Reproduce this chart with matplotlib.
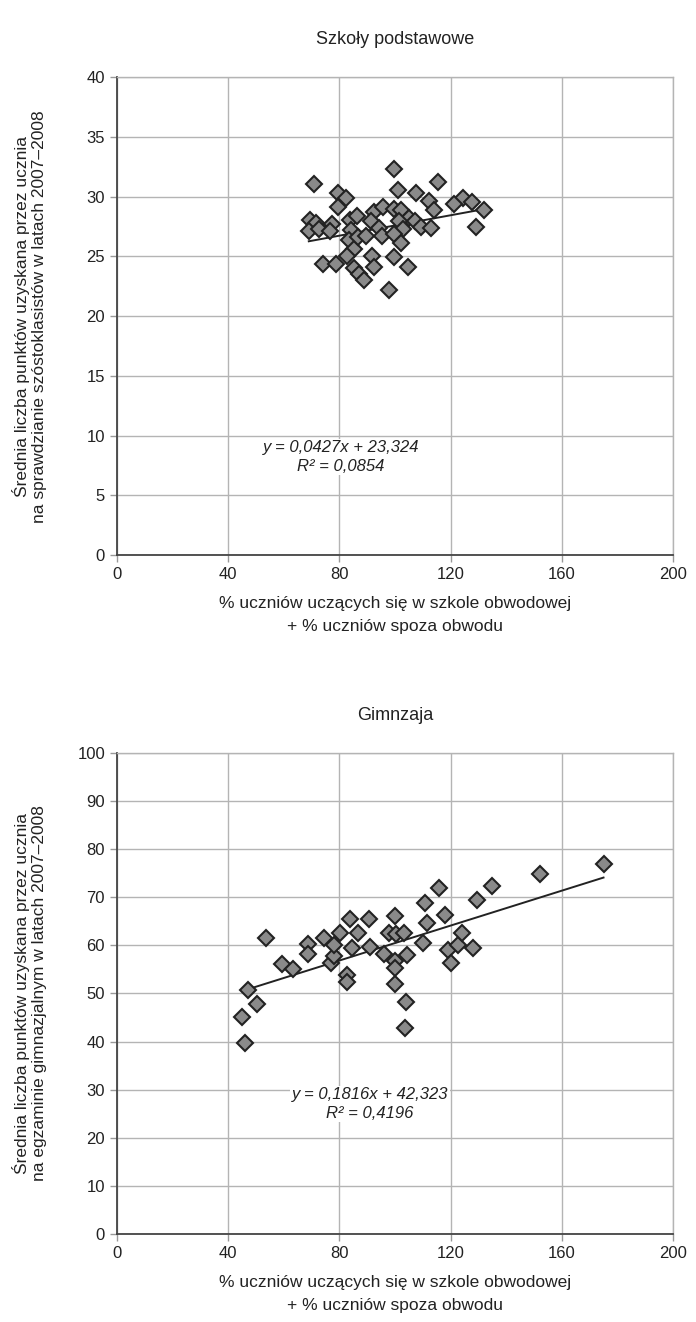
# ============== Imports ===================
import numpy as np
import matplotlib
matplotlib.use("Agg")
import matplotlib.pyplot as plt

plt.rcParams["font.family"] = ["Liberation Sans", "DejaVu Sans"]

# ============== Données ===========================================
# Szkoły podstawowe
sp_x = [71.0, 79.6, 82.4, 79.4, 69.4, 71.6, 77.4, 69.0, 72.8, 76.6,
        83.8, 86.2, 84.2, 83.4, 85.2, 82.6, 86.8, 89.6, 92.6, 95.6,
        91.4, 94.4, 95.2, 74.0, 78.8, 85.2, 87.0, 89.0, 91.6, 92.6,
        98.0, 99.8, 115.4, 101.0, 107.4, 112.2, 114.2, 124.4, 121.4, 127.6,
        131.9, 129.2, 99.8, 102.2, 104.9, 107.3, 109.4, 113.0, 101.6, 102.8,
        99.8, 102.2, 99.8, 104.6]
sp_y = [31.05, 30.33, 29.86, 29.1, 28.05, 27.8, 27.7, 27.1, 27.3, 27.1,
        28.05, 28.4, 27.2, 26.4, 25.6, 25.0, 26.6, 26.7, 28.75, 29.1,
        28.0, 27.4, 26.7, 24.4, 24.4, 24.0, 23.5, 23.0, 25.0, 24.1,
        22.2, 32.35, 31.2, 30.6, 30.3, 29.6, 28.85, 29.9, 29.4, 29.55,
        28.85, 27.5, 29.0, 28.85, 28.2, 28.0, 27.5, 27.35, 27.95, 27.3,
        26.85, 26.15, 24.97, 24.1]
sp_a, sp_b = 0.0427, 23.324
sp_eq = "y = 0,0427x + 23,324\nR² = 0,0854"

# Gimnazja
gim_x = [45.0, 46.0, 47.2, 50.2, 53.6, 59.2, 63.2, 68.6, 68.8, 74.6,
         76.9, 78.2, 78.2, 80.2, 82.6, 82.6, 83.8, 84.7, 86.8, 90.8,
         91.0, 96.1, 97.7, 100.0, 100.3, 100.0, 100.0, 100.0, 103.1, 104.5,
         104.0, 103.5, 109.9, 111.4, 110.8, 116.0, 118.0, 119.0, 120.2, 122.6,
         124.0, 127.9, 129.6, 134.9, 152.1, 175.0]
gim_y = [45.1, 39.8, 50.8, 47.9, 61.6, 56.1, 55.0, 60.35, 58.3, 61.6,
         56.4, 57.8, 60.1, 62.5, 53.8, 52.4, 65.4, 59.4, 62.6, 65.4,
         59.65, 58.3, 62.5, 66.1, 62.3, 56.7, 55.4, 51.9, 62.5, 58.0,
         48.3, 42.8, 60.4, 64.6, 68.9, 71.95, 66.4, 59.0, 56.3, 60.0,
         62.6, 59.5, 69.4, 72.4, 74.9, 77.0]
gim_a, gim_b = 0.1816, 42.323
gim_eq = "y = 0,1816x + 42,323\nR² = 0,4196"

x_ticks = [0, 40, 80, 120, 160, 200]
sp_yticks = [0, 5, 10, 15, 20, 25, 30, 35, 40]
gim_yticks = [0, 10, 20, 30, 40, 50, 60, 70, 80, 90, 100]

xlabel = "% uczniów uczących się w szkole obwodowej\n+ % uczniów spoza obwodu"
sp_ylabel = "Średnia liczba punktów uzyskana przez ucznia\nna sprawdzianie szóstoklasistów w latach 2007–2008"
gim_ylabel = "Średnia liczba punktów uzyskana przez ucznia\nna egzaminie gimnazjalnym w latach 2007–2008"


# ============== Fonction de tracé ===================
def draw(ax, xs, ys, a, b, eq, eq_pos, yticks, ylabel, title):
    ax.set_xlim(0, 200)
    ax.set_ylim(yticks[0], yticks[-1])
    ax.set_xticks(x_ticks)
    ax.set_yticks(yticks)
    ax.grid(True, color="#b4b4b4", linewidth=1.0)
    ax.set_axisbelow(True)
    for side in ["top", "right"]:
        ax.spines[side].set_color("#b4b4b4")
        ax.spines[side].set_linewidth(1.0)
    ax.spines["left"].set_color("#444444")
    ax.spines["bottom"].set_color("#444444")
    ax.spines["left"].set_linewidth(1.3)
    ax.spines["bottom"].set_linewidth(1.3)
    ax.tick_params(axis="both", labelsize=12, colors="#999999", labelcolor="#222222",
                   length=5, width=1.0, direction="out")

    # ligne de tendance (équation affichée)
    xl = np.array([min(xs), max(xs)])
    ax.plot(xl, a * xl + b, color="#222222", linewidth=1.4, zorder=3)
    ax.plot(xs, ys, linestyle="none", marker="D", markersize=8.5,
            markerfacecolor="#8a8a8a", markeredgecolor="#222222",
            markeredgewidth=1.5, zorder=4)

    ax.text(eq_pos[0], eq_pos[1], eq, ha="center", va="center", fontsize=12,
            style="italic", color="#222222", linespacing=1.3,
            bbox=dict(facecolor="white", edgecolor="none", pad=1.0), zorder=5)

    ax.set_title(title, fontsize=13, pad=24, color="#222222")
    ax.set_xlabel(xlabel, fontsize=12.5, labelpad=10, linespacing=1.7, color="#222222")
    ax.set_ylabel(ylabel, fontsize=12.5, linespacing=1.2, color="#222222")
    ax.yaxis.set_label_coords(-0.125, 0.5)


# ============== Figure ===================
fig = plt.figure(figsize=(6.96, 13.22), dpi=100)
ax1 = fig.add_axes([0.168, 0.580, 0.799, 0.3616])
ax2 = fig.add_axes([0.168, 0.0666, 0.799, 0.3638])

draw(ax1, sp_x, sp_y, sp_a, sp_b, sp_eq, (80.5, 8.2), sp_yticks, sp_ylabel,
     "Szkoły podstawowe")
draw(ax2, gim_x, gim_y, gim_a, gim_b, gim_eq, (91, 27.0), gim_yticks, gim_ylabel,
     "Gimnzaja")

fig.savefig("out.png", dpi=100)
